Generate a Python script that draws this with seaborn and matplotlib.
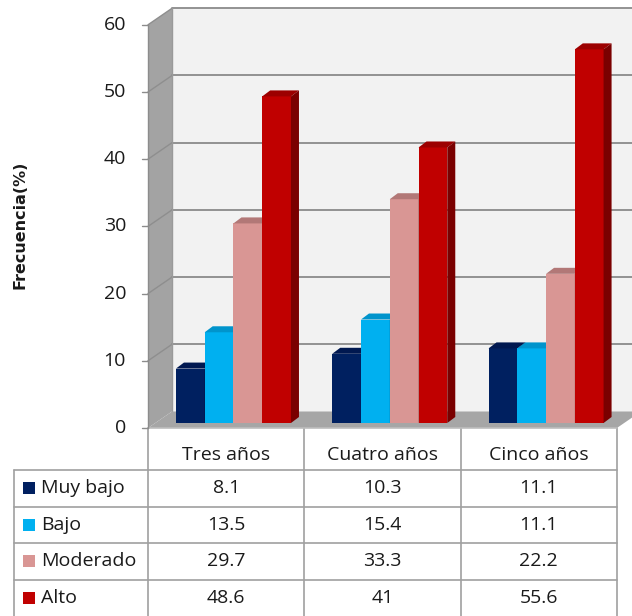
import matplotlib
matplotlib.use("Agg")
import matplotlib.pyplot as plt
from matplotlib.patches import Polygon, Rectangle
from matplotlib.lines import Line2D
import pandas as pd
import seaborn as sns

# ---- data -------------------------------------------------------------
categories = ["Tres años", "Cuatro años", "Cinco años"]
levels = ["Muy bajo", "Bajo", "Moderado", "Alto"]
muy_bajo = [8.1, 10.3, 11.1]
bajo = [13.5, 15.4, 11.1]
moderado = [29.7, 33.3, 22.2]
alto = [48.6, 41, 55.6]
y_ticks = [0, 10, 20, 30, 40, 50, 60]
y_label = "Frecuencia(%)"

series = [muy_bajo, bajo, moderado, alto]
df = pd.DataFrame(
    [(cat, lev, vals[i]) for lev, vals in zip(levels, series)
     for i, cat in enumerate(categories)],
    columns=["Edad", "Nivel", "Frecuencia"],
)

# ---- styling ----------------------------------------------------------
front_col = {"Muy bajo": "#002060", "Bajo": "#00B0F0",
             "Moderado": "#D99694", "Alto": "#C00000"}
top_col = {"Muy bajo": "#001850", "Bajo": "#0094CC",
           "Moderado": "#B27877", "Alto": "#9C0000"}
side_col = {"Muy bajo": "#00123C", "Bajo": "#0078A8",
            "Moderado": "#9C6665", "Alto": "#7A0000"}

sns.set_theme(style="white")
plt.rcParams["font.family"] = ["Open Sans", "DejaVu Sans"]
TXT = "#1a1a1a"

W, H, DPI = 632, 616, 100
fig = plt.figure(figsize=(W / DPI, H / DPI), dpi=DPI)
fig.patch.set_facecolor("white")

# bar plane of the 3-D plot area (pixels from top-left)
pl_left, pl_right = 155.3, 624.2
pl_zero, pl_top = 423.0, 19.8
ax = fig.add_axes([pl_left / W, (H - pl_zero) / H,
                   (pl_right - pl_left) / W, (pl_zero - pl_top) / H])

sns.barplot(data=df, x="Edad", y="Frecuencia", hue="Nivel",
            hue_order=levels, order=categories, palette=front_col,
            saturation=1, width=0.736, edgecolor="none", linewidth=0,
            legend=False, ax=ax)
ax.set_xlim(-0.5, 2.5)
ax.set_ylim(0, 60)
ax.set_axis_off()

# bar rectangles, tagged with their level
bar_list = []
for lev, cont in zip(levels, ax.containers):
    for p in cont.patches:
        bar_list.append((p, lev))
bar_list.sort(key=lambda t: t[0].get_x())

sx = (pl_right - pl_left) / 3.0      # px per category unit
sy = (pl_zero - pl_top) / 60.0       # px per percent


def shift(x, y, dx, dy):
    """Move a data point by a pixel offset (dy positive = up)."""
    return (x + dx / sx, y + dy / sy)


FRONT = (-7.3, -5.0)
BACK = (16.7, 11.5)
x0, x1 = -0.5, 2.5

# back wall
bw = Polygon([shift(x0, 0, *BACK), shift(x1, 0, *BACK),
              shift(x1, 60, *BACK), shift(x0, 60, *BACK)],
             closed=True, fc="#F2F2F2", ec="none", zorder=0.5, clip_on=False)
ax.add_patch(bw)
# side wall
sw = Polygon([shift(x0, 0, *FRONT), shift(x0, 60, *FRONT),
              shift(x0, 60, *BACK), shift(x0, 0, *BACK)],
             closed=True, fc="#A3A3A3", ec="none", zorder=0.6, clip_on=False)
ax.add_patch(sw)
# gridlines on back and side walls
for v in y_ticks[1:]:
    bx, by = zip(shift(x0, v, *BACK), shift(x1, v, *BACK))
    ax.add_line(Line2D(bx, by, color="#8A8A8A", lw=1.3, zorder=0.7,
                       clip_on=False))
    sxs, sys_ = zip(shift(x0, v, *FRONT), shift(x0, v, *BACK))
    ax.add_line(Line2D(sxs, sys_, color="#8E8E8E", lw=1.0, zorder=0.7,
                       clip_on=False))
# back wall left edge
lx, ly = zip(shift(x0, 0, *BACK), shift(x0, 60, *BACK))
ax.add_line(Line2D(lx, ly, color="#9A9A9A", lw=1.0, zorder=0.75,
                   clip_on=False))
# floor
fl = Polygon([shift(x0, 0, *FRONT), shift(x1, 0, *FRONT),
              shift(x1, 0, *BACK), shift(x0, 0, *BACK)],
             closed=True, fc="#A6A6A6", ec="none", zorder=0.8, clip_on=False)
ax.add_patch(fl)
fx, fy = zip(shift(x0, 0, *FRONT), shift(x1, 0, *FRONT))
ax.add_line(Line2D(fx, fy, color="#BDBDBD", lw=1.2, zorder=0.85,
                   clip_on=False))

# value axis on the front-left edge
ax_x, ax_y = zip(shift(x0, 0, *FRONT), shift(x0, 60, *FRONT))
ax.add_line(Line2D(ax_x, ax_y, color="#8C8C8C", lw=1.0, zorder=0.9,
                   clip_on=False))
for v in y_ticks:
    tx, ty = zip(shift(x0, v, FRONT[0] - 6, FRONT[1]),
                 shift(x0, v, *FRONT))
    ax.add_line(Line2D(tx, ty, color="#8C8C8C", lw=1.0, zorder=0.9,
                       clip_on=False))
    lx_, ly_ = shift(x0, v, FRONT[0] - 22, FRONT[1])
    ax.text(lx_, ly_, str(v), ha="right", va="center", fontsize=14,
            color=TXT, clip_on=False)

fig.text(20 / W, 1 - 225 / H, y_label, rotation=90, ha="center",
         va="center", fontsize=11.5, fontweight="bold", color=TXT,
         family="DejaVu Sans")

# 3-D faces of the bars
DX, DY = 8.0, 6.0
for k, (p, lev) in enumerate(bar_list):
    bx0, bw_ = p.get_x(), p.get_width()
    h = p.get_height()
    base_z = 3 + 0.1 * k
    p.set_zorder(base_z)
    p.set_clip_on(False)
    top = Polygon([(bx0, h), (bx0 + bw_, h), shift(bx0 + bw_, h, DX, DY),
                   shift(bx0, h, DX, DY)], closed=True, fc=top_col[lev],
                  ec="none", zorder=base_z + 0.05, clip_on=False)
    side = Polygon([(bx0 + bw_, 0), (bx0 + bw_, h),
                    shift(bx0 + bw_, h, DX, DY), shift(bx0 + bw_, 0, DX, DY)],
                   closed=True, fc=side_col[lev], ec="none",
                   zorder=base_z + 0.05, clip_on=False)
    ax.add_patch(top)
    ax.add_patch(side)

# ---- data table -------------------------------------------------------
fig.canvas.draw()
tab = fig.add_axes([0, 0, 1, 1], zorder=-1)
tab.set_xlim(0, W)
tab.set_ylim(H, 0)
tab.set_axis_off()


def to_px(x, y):
    dx, dy = ax.transData.transform((x, y))
    return dx, H - dy


col_edges = [to_px(e, 0)[0] + FRONT[0] for e in (-0.5, 0.5, 1.5, 2.5)]
col_mid = [(a + b) / 2 for a, b in zip(col_edges[:-1], col_edges[1:])]
head_top = to_px(0, 0)[1] - FRONT[1]
head_bot = 470.0
row_h = 36.5
row_edges = [head_bot + row_h * i for i in range(5)]
left_edge = 14.0
LINE = "#A0A0A0"
TFS = 14

for xe in col_edges:
    tab.plot([xe, xe], [head_top, H], color=LINE, lw=1.2)
tab.plot([left_edge, left_edge], [head_bot, H], color=LINE, lw=1.2)
for ye in row_edges[:-1]:
    tab.plot([left_edge, col_edges[-1]], [ye, ye], color=LINE, lw=1.2)

for cx, cat in zip(col_mid, categories):
    tab.text(cx, 455, cat, ha="center", va="center", fontsize=TFS,
             color=TXT)

for r, (lev, vals) in enumerate(zip(levels, series)):
    cy = (row_edges[r] + row_edges[r + 1]) / 2
    tab.add_patch(Rectangle((23, cy - 6), 12, 12, fc=front_col[lev],
                            ec="none"))
    tab.text(41, cy, lev, ha="left", va="center", fontsize=TFS, color=TXT)
    for cx, v in zip(col_mid, vals):
        tab.text(cx, cy, f"{v:g}", ha="center", va="center",
                 fontsize=TFS, color=TXT)

fig.savefig("out.png", dpi=DPI)
